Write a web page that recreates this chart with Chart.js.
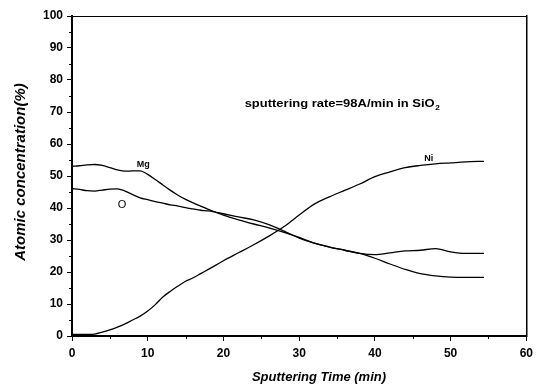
<!DOCTYPE html>
<html>
<head>
<meta charset="utf-8">
<script src="https://cdn.jsdelivr.net/npm/chart.js@4/dist/chart.umd.min.js"></script>
<style>
    html, body { margin: 0; padding: 0; background: #fff; }
    #wrap { width: 538px; height: 390px; position: relative; }
</style>
</head>
<body>
<div id="wrap"><canvas id="myChart"></canvas></div>
<script>
// sputtering time (min)
const times = [0, 1, 2, 3, 4, 5, 6, 7, 8, 9, 10, 11, 12, 13, 14, 15, 16, 17, 18,
    20, 22, 24, 26, 28, 30, 32, 34, 36, 38, 40, 42, 44, 46, 48, 50, 52, 54.4];

const mgValues = [53.0, 53.2, 53.5, 53.6, 53.3, 52.6, 51.9, 51.5, 51.6, 51.6, 50.5, 48.9, 47.2, 45.5, 44.0, 42.7, 41.6, 40.6, 39.6,
    37.8, 36.3, 35.0, 33.8, 32.4, 30.8, 29.0, 27.8, 26.8, 25.8, 24.3, 22.5, 20.8, 19.5, 18.8, 18.4, 18.3, 18.3];

const oValues = [46.1, 45.8, 45.4, 45.3, 45.6, 45.9, 46.0, 45.3, 44.2, 43.2, 42.6, 42.0, 41.5, 41.0, 40.6, 40.1, 39.7, 39.3, 39.1,
    38.2, 37.2, 36.3, 34.8, 32.8, 30.6, 29.0, 27.8, 26.8, 25.8, 25.4, 26.0, 26.6, 26.8, 27.3, 26.3, 25.8, 25.8];

const niValues = [0.5, 0.5, 0.5, 0.6, 1.2, 1.9, 2.8, 3.8, 5.0, 6.2, 7.8, 9.8, 12.2, 14.0, 15.6, 17.1, 18.2, 19.5, 20.8,
    23.5, 26.0, 28.5, 31.2, 34.2, 37.8, 41.2, 43.5, 45.5, 47.5, 49.8, 51.3, 52.6, 53.3, 53.8, 54.1, 54.4, 54.6];

const seriesNames = ["Mg", "O", "Ni"];
const xTitle = "Sputtering Time (min)";
const yTitle = "Atomic concentration(%)";
const noteText = "sputtering rate=98A/min in SiO";
const noteSub = "2";

const toPoints = (vals) => times.map((t, i) => ({ x: t, y: vals[i] }));

const makeLine = (label, vals) => ({
    label,
    data: toPoints(vals),
    borderColor: "#000",
    borderWidth: 1.3,
    pointRadius: 0,
    fill: false,
    cubicInterpolationMode: "monotone"
});

// minor ticks, curve labels, note and the axis titles
const extrasPlugin = {
    id: "extras",
    afterDraw(chart) {
        const ctx = chart.ctx;
        const xs = chart.scales.x;
        const ys = chart.scales.y;
        const area = chart.chartArea;

        ctx.save();
        ctx.strokeStyle = "#000";
        ctx.lineWidth = 1;
        for (let v = 5; v < 100; v += 10) {
            const py = Math.round(ys.getPixelForValue(v)) + 0.5;
            ctx.beginPath();
            ctx.moveTo(area.left - 3, py);
            ctx.lineTo(area.left, py);
            ctx.stroke();
        }
        for (let v = 5; v < 60; v += 10) {
            const px = Math.round(xs.getPixelForValue(v)) + 0.5;
            ctx.beginPath();
            ctx.moveTo(px, area.bottom);
            ctx.lineTo(px, area.bottom + 3);
            ctx.stroke();
        }

        ctx.fillStyle = "#000";
        ctx.textBaseline = "middle";

        // curve labels
        ctx.font = "bold 9px 'Liberation Sans', Arial, sans-serif";
        ctx.textAlign = "center";
        ctx.fillText(seriesNames[0], xs.getPixelForValue(9.4), ys.getPixelForValue(53.6));
        ctx.fillText(seriesNames[2], xs.getPixelForValue(47.1), ys.getPixelForValue(55.4));
        ctx.font = "11px 'Liberation Sans', Arial, sans-serif";
        ctx.fillText(seriesNames[1], xs.getPixelForValue(6.6), ys.getPixelForValue(40.9));

        // note, drawn a bit wide like the original lettering
        const nx = xs.getPixelForValue(22.8);
        const ny = ys.getPixelForValue(72.6);
        ctx.save();
        ctx.translate(nx, ny);
        ctx.scale(1.18, 1);
        ctx.font = "bold 11px 'Liberation Sans', Arial, sans-serif";
        ctx.textAlign = "left";
        ctx.fillText(noteText, 0, 0);
        const w = ctx.measureText(noteText).width;
        ctx.font = "bold 7px 'Liberation Sans', Arial, sans-serif";
        ctx.fillText(noteSub, w + 0.5, 4);
        ctx.restore();

        // axis titles
        ctx.font = "italic bold 13px 'Liberation Sans', Arial, sans-serif";
        ctx.textAlign = "center";
        ctx.fillText(xTitle, 319, 377);
        ctx.translate(21, 172);
        ctx.rotate(-Math.PI / 2);
        ctx.font = "italic bold 15px 'Liberation Sans', Arial, sans-serif";
        ctx.fillText(yTitle, 0, 0);
        ctx.restore();
    }
};

const tickFont = { family: "'Liberation Sans', Arial, sans-serif", size: 12, weight: "bold" };

const ctx = document.getElementById("myChart").getContext("2d");
const myChart = new Chart(ctx, {
    type: "line",
    data: {
        datasets: [
            makeLine(seriesNames[0], mgValues),
            makeLine(seriesNames[1], oValues),
            makeLine(seriesNames[2], niValues)
        ]
    },
    options: {
        responsive: true,
        maintainAspectRatio: false,
        animation: false,
        layout: { padding: { left: 0, top: 16, right: 10, bottom: 0 } },
        plugins: {
            legend: { display: false },
            tooltip: { enabled: false }
        },
        scales: {
            x: {
                type: "linear",
                position: "bottom",
                min: 0,
                max: 60,
                afterFit: (scale) => { scale.height = 54; },
                ticks: { stepSize: 10, color: "#000", font: tickFont, padding: 5, maxRotation: 0 },
                grid: { drawOnChartArea: false, drawTicks: true, tickLength: 5, color: "#000", tickWidth: 1 },
                border: { color: "#000", width: 2 }
            },
            y: {
                position: "left",
                min: 0,
                max: 100,
                afterFit: (scale) => { scale.width = 72; },
                ticks: { stepSize: 10, color: "#000", font: tickFont, padding: 4 },
                grid: { drawOnChartArea: false, drawTicks: true, tickLength: 5, color: "#000", tickWidth: 1 },
                border: { color: "#000", width: 2 }
            },
            xTop: {
                type: "linear",
                position: "top",
                min: 0,
                max: 60,
                afterFit: (scale) => { scale.height = 0; },
                ticks: { display: false },
                grid: { drawOnChartArea: false, drawTicks: false },
                border: { color: "#000", width: 1 }
            },
            yRight: {
                position: "right",
                min: 0,
                max: 100,
                afterFit: (scale) => { scale.width = 0; },
                ticks: { display: false },
                grid: { drawOnChartArea: false, drawTicks: false },
                border: { color: "#000", width: 1.5 }
            }
        }
    },
    plugins: [extrasPlugin]
});
</script>
</body>
</html>
